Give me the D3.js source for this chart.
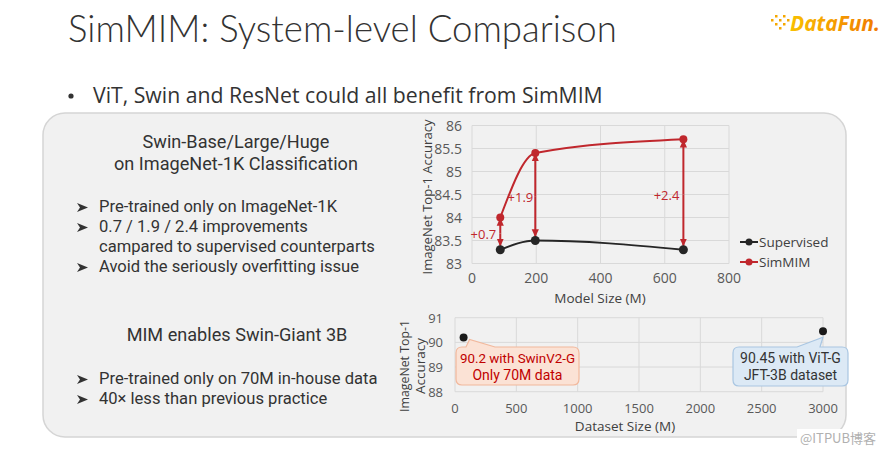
<!DOCTYPE html>
<html><head><meta charset="utf-8">
<script src="https://cdn.jsdelivr.net/npm/d3@7"></script>
<style>html,body{margin:0;padding:0;background:#fff;}svg{display:block;}</style>
</head><body>
<script>
// ---- data ----
const modelSizes = [88, 197, 658];
const supervised = [83.3, 83.5, 83.3];
const simmim = [84.0, 85.4, 85.7];
const gains = ["+0.7", "+1.9", "+2.4"];
const seriesNames = ["Supervised", "SimMIM"];
const xTicks1 = [0, 200, 400, 600, 800];
const yTicks1 = [83, 83.5, 84, 84.5, 85, 85.5, 86];
const datasetSizes = [70, 3000];
const giantAcc = [90.2, 90.45];
const calloutLines = [["90.2 with SwinV2-G", "Only 70M data"], ["90.45 with ViT-G", "JFT-3B dataset"]];
const xTicks2 = [0, 500, 1000, 1500, 2000, 2500, 3000];
const yTicks2 = [88, 89, 90, 91];
const leftHeads = ["Swin-Base/Large/Huge", "on ImageNet-1K Classification"];
const leftBullets1 = ["Pre-trained only on ImageNet-1K", "0.7 / 1.9 / 2.4 improvements", "campared to supervised counterparts", "Avoid the seriously overfitting issue"];
const leftHead2 = "MIM enables Swin-Giant 3B";
const leftBullets2 = ["Pre-trained only on 70M in-house data", "40× less than previous practice"];

const W = 889, H = 452;
const FONT = "'Open Sans','Noto Sans',sans-serif";
const PANEL_FONT = "Roboto,'Open Sans',sans-serif";
const svg = d3.select("body").append("svg").attr("width", W).attr("height", H).style("font-family", FONT);

function fitSize(t, w) {
  const cur = t.node().getComputedTextLength();
  const fs = parseFloat(t.attr("font-size"));
  const nfs = fs * w / cur;
  t.attr("font-size", nfs.toFixed(2));
  return nfs;
}

// defs
const defs = svg.append("defs");
const lg = defs.append("linearGradient").attr("id", "logoG").attr("x1", 0).attr("x2", 1).attr("y1", 0).attr("y2", 0);
lg.append("stop").attr("offset", "0%").attr("stop-color", "#f9c000");
lg.append("stop").attr("offset", "100%").attr("stop-color", "#f07800");
defs.append("marker").attr("id", "arr").attr("viewBox", "0 0 10 10").attr("refX", 9).attr("refY", 5)
  .attr("markerUnits", "userSpaceOnUse").attr("markerWidth", 8).attr("markerHeight", 8).attr("orient", "auto")
  .append("path").attr("d", "M0,0.5 L10,5 L0,9.5 z").attr("fill", "#c0272d");

// title
fitSize(svg.append("text").attr("x", 68).attr("y", 42).attr("font-size", 40).attr("font-weight", 300)
  .attr("fill", "#333").style("font-family", "Lato,'Open Sans',sans-serif").text("SimMIM: System-level Comparison"), 549);

// logo
const logo = svg.append("g");
[[771,19],[775,15],[775,23],[779,19],[779,27],[783,15],[783,23],[787,19]].forEach(p =>
  logo.append("rect").attr("x", p[0]).attr("y", p[1]).attr("width", 2.5).attr("height", 2.5).attr("fill", "#f5a800"));
fitSize(logo.append("text").attr("x", 790).attr("y", 31).attr("font-size", 24).attr("font-weight", 700)
  .attr("font-style", "italic").attr("fill", "url(#logoG)").text("DataFun."), 90);

// bullet line
svg.append("circle").attr("cx", 71).attr("cy", 96).attr("r", 2.6).attr("fill", "#333");
fitSize(svg.append("text").attr("x", 93).attr("y", 103).attr("font-size", 21).attr("fill", "#333")
  .text("ViT, Swin and ResNet could all benefit from SimMIM"), 510);

// panel
svg.append("rect").attr("x", 43).attr("y", 113).attr("width", 803).attr("height", 324).attr("rx", 22)
  .attr("fill", "#f1f1f1").attr("stroke", "#d5d5d5").attr("stroke-width", 1.5);

// left texts
const left = svg.append("g").style("font-family", PANEL_FONT);
const heads = leftHeads.map((s, i) => left.append("text").attr("x", 236).attr("y", 148 + i * 22).attr("text-anchor", "middle")
  .attr("font-size", 18).attr("fill", "#333").text(s));
const head2 = left.append("text").attr("x", 237).attr("y", 341).attr("text-anchor", "middle")
  .attr("font-size", 18).attr("fill", "#333").text(leftHead2);
const hfs = fitSize(heads[1], 244);
heads[0].attr("font-size", hfs.toFixed(2));
head2.attr("font-size", hfs.toFixed(2));

function arrowGlyph(x, y) {
  left.append("path").attr("d", `M${x},${y - 9} L${x + 11},${y - 4.5} L${x},${y} L${x + 3},${y - 4.5} z`).attr("fill", "#333");
}
const bullets = [];
leftBullets1.forEach((s, i) => {
  const y = 212 + i * 20;
  if (i !== 2) arrowGlyph(77, y);
  bullets.push(left.append("text").attr("x", 99).attr("y", y).attr("font-size", 17).attr("fill", "#333").text(s));
});
leftBullets2.forEach((s, i) => {
  const y = 384 + i * 20;
  arrowGlyph(77, y);
  bullets.push(left.append("text").attr("x", 99).attr("y", y).attr("font-size", 17).attr("fill", "#333").text(s));
});
const bfs = fitSize(bullets[2], 276);
bullets.forEach(b => b.attr("font-size", bfs.toFixed(2)));

// ---- chart 1 ----
const x1 = d3.scaleLinear().domain([0, 800]).range([472, 729]);
const y1 = d3.scaleLinear().domain([83, 86]).range([263.5, 125.5]);
const g1 = svg.append("g");
g1.selectAll(".gx").data(xTicks1).join("line").attr("x1", d => x1(d)).attr("x2", d => x1(d))
  .attr("y1", y1(83)).attr("y2", y1(86)).attr("stroke", "#d9d9d9");
g1.selectAll(".gy").data(yTicks1).join("line").attr("y1", d => y1(d)).attr("y2", d => y1(d))
  .attr("x1", x1(0)).attr("x2", x1(800)).attr("stroke", "#d9d9d9");
g1.selectAll(".tx").data(xTicks1).join("text").attr("x", d => x1(d)).attr("y", 283).attr("text-anchor", "middle")
  .attr("font-size", 14).attr("fill", "#595959").text(d => d);
g1.selectAll(".ty").data(yTicks1).join("text").attr("x", 462).attr("y", d => y1(d) + 5).attr("text-anchor", "end")
  .attr("font-size", 14).attr("fill", "#595959").text(d => d);
g1.append("text").attr("x", 600).attr("y", 303).attr("text-anchor", "middle").attr("font-size", 13.5)
  .attr("fill", "#404040").text("Model Size (M)");
fitSize(g1.append("text").attr("transform", "translate(432,197) rotate(-90)").attr("text-anchor", "middle")
  .attr("font-size", 13.5).attr("fill", "#404040").text("ImageNet Top-1 Accuracy"), 155);

const line1 = d3.line().x(d => x1(d[0])).y(d => y1(d[1])).curve(d3.curveMonotoneX);
const supPts = modelSizes.map((m, i) => [m, supervised[i]]);
const simPts = modelSizes.map((m, i) => [m, simmim[i]]);
g1.append("path").attr("d", line1(supPts)).attr("fill", "none").attr("stroke", "#262626").attr("stroke-width", 2);
g1.append("path").attr("d", line1(simPts)).attr("fill", "none").attr("stroke", "#c0272d").attr("stroke-width", 2);
modelSizes.forEach((m, i) => {
  const ymid = y1((supervised[i] + simmim[i]) / 2);
  g1.append("line").attr("x1", x1(m)).attr("x2", x1(m)).attr("y1", ymid).attr("y2", y1(simmim[i]) + 1)
    .attr("stroke", "#c0272d").attr("stroke-width", 2).attr("marker-end", "url(#arr)");
  g1.append("line").attr("x1", x1(m)).attr("x2", x1(m)).attr("y1", ymid).attr("y2", y1(supervised[i]) - 4)
    .attr("stroke", "#c0272d").attr("stroke-width", 2).attr("marker-end", "url(#arr)");
  g1.append("text").attr("x", x1(m) - (i === 1 ? 2 : 4)).attr("y", ymid + 5).attr("text-anchor", "end")
    .attr("font-size", 13).attr("fill", "#c0272d").text(gains[i]);
});
g1.selectAll(".ps").data(supPts).join("circle").attr("cx", d => x1(d[0])).attr("cy", d => y1(d[1])).attr("r", 4.5).attr("fill", "#262626");
g1.selectAll(".pm").data(simPts).join("circle").attr("cx", d => x1(d[0])).attr("cy", d => y1(d[1])).attr("r", 4).attr("fill", "#c0272d");

// legend
const legColors = ["#262626", "#c0272d"];
seriesNames.forEach((s, i) => {
  const ly = 242 + i * 20;
  g1.append("line").attr("x1", 740).attr("x2", 758).attr("y1", ly).attr("y2", ly).attr("stroke", legColors[i]).attr("stroke-width", 2);
  g1.append("circle").attr("cx", 749).attr("cy", ly).attr("r", 3.5).attr("fill", legColors[i]);
  g1.append("text").attr("x", 759).attr("y", ly + 5).attr("font-size", 13.5).attr("fill", "#404040").text(s);
});

// ---- chart 2 ----
const x2 = d3.scaleLinear().domain([0, 3000]).range([455, 823]);
const y2 = d3.scaleLinear().domain([88, 91]).range([391.7, 317.7]);
const g2 = svg.append("g");
g2.selectAll(".gx").data(xTicks2).join("line").attr("x1", d => x2(d)).attr("x2", d => x2(d))
  .attr("y1", y2(88)).attr("y2", y2(91)).attr("stroke", "#d9d9d9");
g2.selectAll(".gy").data(yTicks2).join("line").attr("y1", d => y2(d)).attr("y2", d => y2(d))
  .attr("x1", x2(0)).attr("x2", x2(3000)).attr("stroke", "#d9d9d9");
g2.selectAll(".tx").data(xTicks2).join("text").attr("x", d => x2(d)).attr("y", 413).attr("text-anchor", "middle")
  .attr("font-size", 13).attr("fill", "#595959").text(d => d);
g2.selectAll(".ty").data(yTicks2).join("text").attr("x", 443).attr("y", d => y2(d) + 5).attr("text-anchor", "end")
  .attr("font-size", 13).attr("fill", "#595959").text(d => d);
g2.append("text").attr("x", 625).attr("y", 431).attr("text-anchor", "middle").attr("font-size", 13.5)
  .attr("fill", "#404040").text("Dataset Size (M)");
fitSize(g2.append("text").attr("transform", "translate(409,366) rotate(-90)").attr("text-anchor", "middle")
  .attr("font-size", 13.5).attr("fill", "#404040").text("ImageNet Top-1"), 92);
g2.append("text").attr("transform", "translate(425,366) rotate(-90)").attr("text-anchor", "middle")
  .attr("font-size", 13.5).attr("fill", "#404040").text("Accuracy");

// callouts
const callStyle = [
  { fill: "#fbe2d5", stroke: "#f2b89c", text: "#c00000", box: [456, 347, 123, 38], tip: [6, 2], base: [466, 495] },
  { fill: "#dce9f5", stroke: "#a9c6e2", text: "#333333", box: [733, 347, 115, 39], tip: [0, 6], base: [797, 820] }
];
datasetSizes.forEach((d, i) => {
  const st = callStyle[i];
  const [bx, by, bw, bh] = st.box;
  const px = x2(d) + st.tip[0], py = y2(giantAcc[i]) + st.tip[1];
  const r = 6;
  const path = `M${bx + r},${by} L${st.base[0]},${by} L${px},${py} L${st.base[1]},${by} L${bx + bw - r},${by}
    Q${bx + bw},${by} ${bx + bw},${by + r} L${bx + bw},${by + bh - r} Q${bx + bw},${by + bh} ${bx + bw - r},${by + bh}
    L${bx + r},${by + bh} Q${bx},${by + bh} ${bx},${by + bh - r} L${bx},${by + r} Q${bx},${by} ${bx + r},${by} z`;
  g2.append("path").attr("d", path).attr("fill", st.fill).attr("stroke", st.stroke).attr("stroke-width", 1.2);
  calloutLines[i].forEach((s, j) => {
    const t = g2.append("text").attr("x", bx + bw / 2).attr("y", by + 16 + j * 17).attr("text-anchor", "middle")
      .style("font-family", PANEL_FONT).attr("font-size", 14).attr("fill", st.text).text(s);
    if (t.node().getComputedTextLength() > bw - 8) fitSize(t, bw - 8);
  });
});
g2.selectAll(".pt").data(datasetSizes).join("circle").attr("cx", d => x2(d)).attr("cy", (d, i) => y2(giantAcc[i]))
  .attr("r", 4).attr("fill", "#1a1a1a");

// watermark
svg.append("rect").attr("x", 797).attr("y", 429).attr("width", 86).attr("height", 18).attr("fill", "#fff");
svg.append("text").attr("x", 800).attr("y", 443).attr("font-size", 13).attr("fill", "#b0b0b0")
  .style("font-family", "'Noto Sans CJK SC',sans-serif").text("@ITPUB博客");
</script>
</body></html>
